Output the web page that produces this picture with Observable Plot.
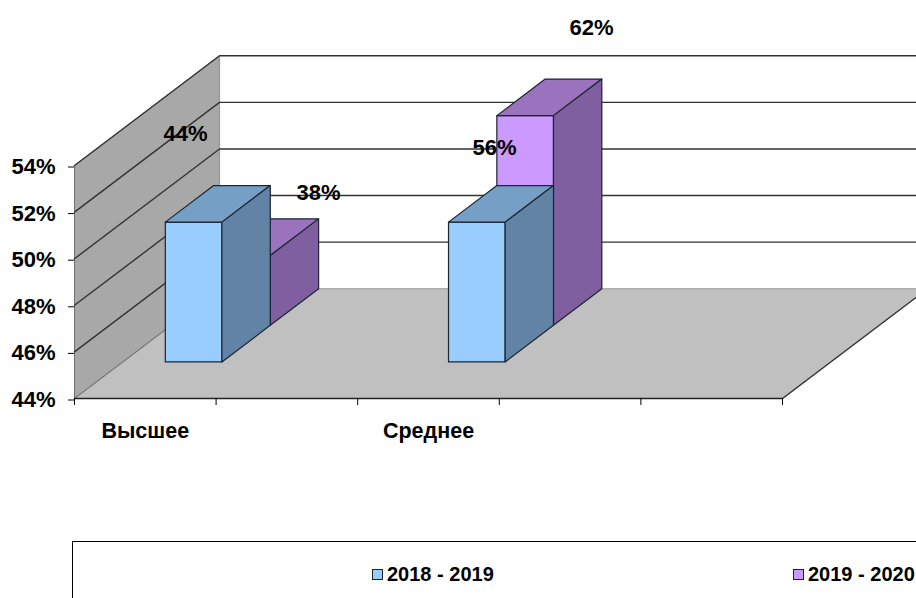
<!DOCTYPE html>
<html>
<head>
<meta charset="utf-8">
<script src="https://cdn.jsdelivr.net/npm/d3@7"></script>
<script src="https://cdn.jsdelivr.net/npm/@observablehq/plot@0.6"></script>
<style>
html,body{margin:0;padding:0;background:#fff;overflow:hidden;width:916px;height:598px}
#chart svg{display:block}
#legend{position:relative;margin-left:72px;width:900px;height:80px;border:1.5px solid #000;box-sizing:border-box;font:bold 20px "Liberation Sans",Arial,sans-serif;color:#000}
.item{position:absolute;top:20px;display:flex;align-items:center;white-space:nowrap;height:24px}
.sw{display:inline-block;width:9px;height:9px;border:1.5px solid #222;margin-right:4px}
</style>
</head>
<body>
<div id="chart"></div>
<div id="legend"></div>
<script>
// Data
const categories = ["Высшее", "Среднее"];
const categorySlots = [0.5, 2.5];
const seriesNames = ["2018 - 2019", "2019 - 2020"];
const heights2018 = [50, 50];
const heights2019 = [47, 53];
const labels2018 = ["44%", "56%"];
const labels2019 = ["38%", "62%"];
const labelSlots2018 = [0.784, 2.966];
const labelLevels2018 = [55.37, 54.77];
const labelSlots2019 = [1.724, 3.651];
const labelLevels2019 = [52.82, 59.9];
const yTicks = [44, 46, 48, 50, 52, 54];
const xTicks = [0, 1, 2, 3, 4, 5];

// Oblique projection of the chart's depth into the two axis scales
const depthSlots = 1.024, depthLevels = 4.71;
const floorLevel = 44, ceilingLevel = 54, endSlot = 5, halfBar = 0.2;
const P = (slot, level, depth) => ({x: slot + depth * depthSlots, y: level + depth * depthLevels});
const face = (pts, fill, stroke = "#1c2530", strokeWidth = 1.2) =>
  Plot.line([...pts, pts[0]], {x: "x", y: "y", fill, stroke, strokeWidth, curve: "linear"});

function bar(slot, value, d0, d1, colors) {
  const a = slot - halfBar, b = slot + halfBar;
  return [
    face([P(a, floorLevel, d0), P(b, floorLevel, d0), P(b, value, d0), P(a, value, d0)], colors[0]),
    face([P(a, value, d0), P(b, value, d0), P(b, value, d1), P(a, value, d1)], colors[1]),
    face([P(b, floorLevel, d0), P(b, floorLevel, d1), P(b, value, d1), P(b, value, d0)], colors[2])
  ];
}
const blue = ["#99ccff", "#769fc6", "#6083a6"];
const purple = ["#cc99ff", "#9b72be", "#7f5f9f"];

const marks = [
  // side wall and floor
  face([P(0, floorLevel, 0), P(0, floorLevel, 1), P(0, ceilingLevel, 1), P(0, ceilingLevel, 0)], "#a8a8a8", "#555", 0.8),
  face([P(0, floorLevel, 0), P(endSlot, floorLevel, 0), P(endSlot, floorLevel, 1), P(0, floorLevel, 1)], "#c0c0c0", "#999", 1.2),
  Plot.line([P(endSlot, floorLevel, 0), P(endSlot, floorLevel, 1)], {x: "x", y: "y", stroke: "#333", strokeWidth: 1.2}),
  Plot.line([P(0, floorLevel, 0), P(0, floorLevel, 1)], {x: "x", y: "y", stroke: "#666", strokeWidth: 0.8}),
  Plot.line([P(0, floorLevel, 1), P(0, ceilingLevel, 1)], {x: "x", y: "y", stroke: "#999", strokeWidth: 1.2}),
  // gridlines running along side wall and back wall
  ...yTicks.filter(v => v > floorLevel).map(v =>
    Plot.line([P(0, v, 0), P(0, v, 1), P(endSlot, v, 1)], {x: "x", y: "y", stroke: "#333", strokeWidth: 1.4})),
  Plot.line([P(0, floorLevel, 0), P(endSlot, floorLevel, 0)], {x: "x", y: "y", stroke: "#222", strokeWidth: 1.4}),
  // bars, back row first
  ...categorySlots.flatMap((s, i) => [
    ...bar(s, heights2019[i], 2 / 3, 1, purple),
    ...bar(s, heights2018[i], 1 / 3, 2 / 3, blue)
  ]),
  Plot.axisY({ticks: yTicks, tickFormat: d => d + "%", tickSize: 6, tickPadding: 13, stroke: "#000", label: null, fontSize: 22, fontWeight: "bold", fill: "#000", dy: 1.5}),
  Plot.axisX({ticks: xTicks, tickFormat: () => "", tickSize: 7, stroke: "#000", label: null}),
  Plot.axisX({ticks: categorySlots, tickFormat: (d, i) => categories[i], tickSize: 0, tickPadding: 24, label: null, fontSize: 21.5, fontWeight: "bold", fill: "#000"}),
  Plot.text(labels2018, {x: (d, i) => labelSlots2018[i], y: (d, i) => labelLevels2018[i], text: d => d, fontSize: 22, fontWeight: "bold", fill: "#000"}),
  Plot.text(labels2019, {x: (d, i) => labelSlots2019[i], y: (d, i) => labelLevels2019[i], text: d => d, fontSize: 22, fontWeight: "bold", fill: "#000"})
];

const chart = Plot.plot({
  width: 916, height: 541,
  marginLeft: 74, marginRight: 134, marginTop: 165, marginBottom: 143,
  x: {domain: [0, endSlot], axis: null},
  y: {domain: [floorLevel, ceilingLevel], axis: null},
  style: {fontFamily: '"Liberation Sans", Arial, sans-serif', background: "#fff", overflow: "hidden"},
  marks
});
document.getElementById("chart").append(chart);

// Legend below the chart
const legend = document.getElementById("legend");
[[299, blue[0]], [720, purple[0]]].forEach(([left, color], i) => {
  const el = document.createElement("div");
  el.className = "item";
  el.style.left = left + "px";
  const sw = document.createElement("span");
  sw.className = "sw";
  sw.style.background = color;
  el.append(sw, seriesNames[i]);
  legend.append(el);
});
</script>
</body>
</html>
